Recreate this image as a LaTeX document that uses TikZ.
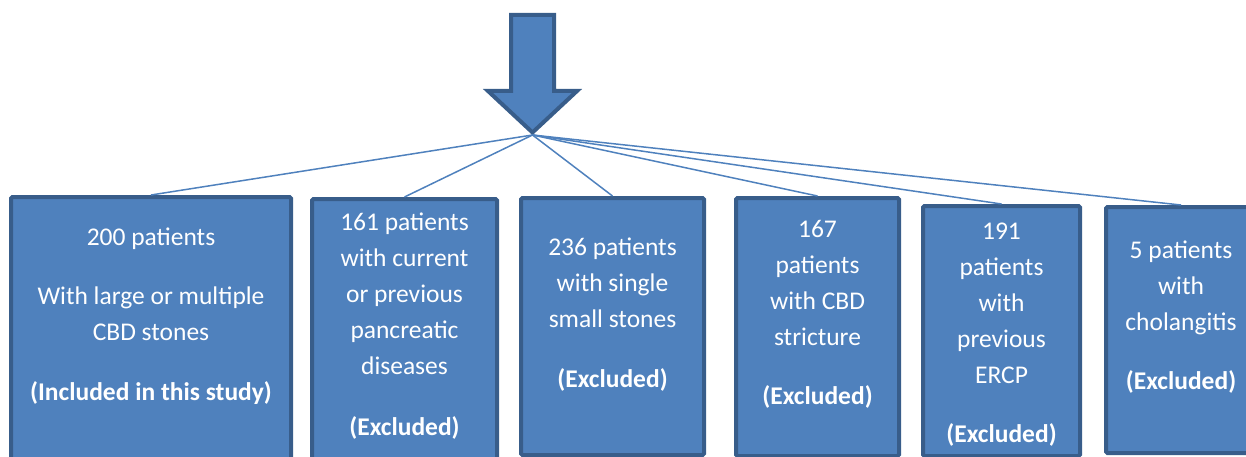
\documentclass[tikz,border=0pt]{standalone}
\usepackage{fontspec}
\setmainfont{Carlito}
\usetikzlibrary{positioning}
\definecolor{boxblue}{HTML}{4F81BD}
\definecolor{boxedge}{HTML}{385D8A}
\tikzset{
 grp/.style={draw=boxedge, fill=boxblue, line width=4pt, rounded corners=1.5pt, anchor=north, inner sep=0pt},
 grptext/.style={text=white, align=center, anchor=north, inner sep=0pt, font=\fontsize{25.5}{36}\selectfont},
 spoke/.style={draw=boxblue, line width=1.5pt},
}
\newcommand{\grpbox}[6]{%
 \node[grp, minimum width=#3pt, minimum height=#4pt] (#1) at (#2) {};%
 \node[grptext] (#1t) at ([yshift={25.2pt-#5pt}]#1.north) {\strut#6};%
}

\begin{document}
\begin{tikzpicture}[x=1pt,y=-1pt]
  \clip (0,0) rectangle (1246,457);
  \draw[draw=boxedge, fill=boxblue, line width=4pt] (511,15) -- (554,15) -- (554,91) -- (577,91) -- (532.5,132.5) -- (488,91) -- (511,91) -- cycle;
  \coordinate (hub) at (532.5,135);
  \grpbox{g1}{151,195}{280}{300}{50}{200 patients\\[23.5pt]With large or multiple\\CBD stones\\[23.5pt]\textbf{(Included in this study)}}
  \grpbox{g2}{404.5,197}{185}{300}{33}{161 patients\\with current\\or previous\\pancreatic\\diseases\\[25pt]\textbf{(Excluded)}}
  \grpbox{g3}{612.5,196}{183}{257}{59}{236 patients\\with single\\small stones\\[24pt]\textbf{(Excluded)}}
  \grpbox{g4}{817.5,196}{163}{258}{41}{167\\patients\\with CBD\\stricture\\[23pt]\textbf{(Excluded)}}
  \grpbox{g5}{1001.5,204}{157}{250}{35}{191\\patients\\with\\previous\\ERCP\\[23pt]\textbf{(Excluded)}}
  \grpbox{g6}{1181,205}{150}{246}{53}{5 patients\\with\\cholangitis\\[23pt]\textbf{(Excluded)}}
  \draw[spoke] (hub) -- (g1.north);
  \draw[spoke] (hub) -- (g2.north);
  \draw[spoke] (hub) -- (g3.north);
  \draw[spoke] (hub) -- (g4.north);
  \draw[spoke] (hub) -- (g5.north);
  \draw[spoke] (hub) -- (g6.north);
\end{tikzpicture}
\end{document}
